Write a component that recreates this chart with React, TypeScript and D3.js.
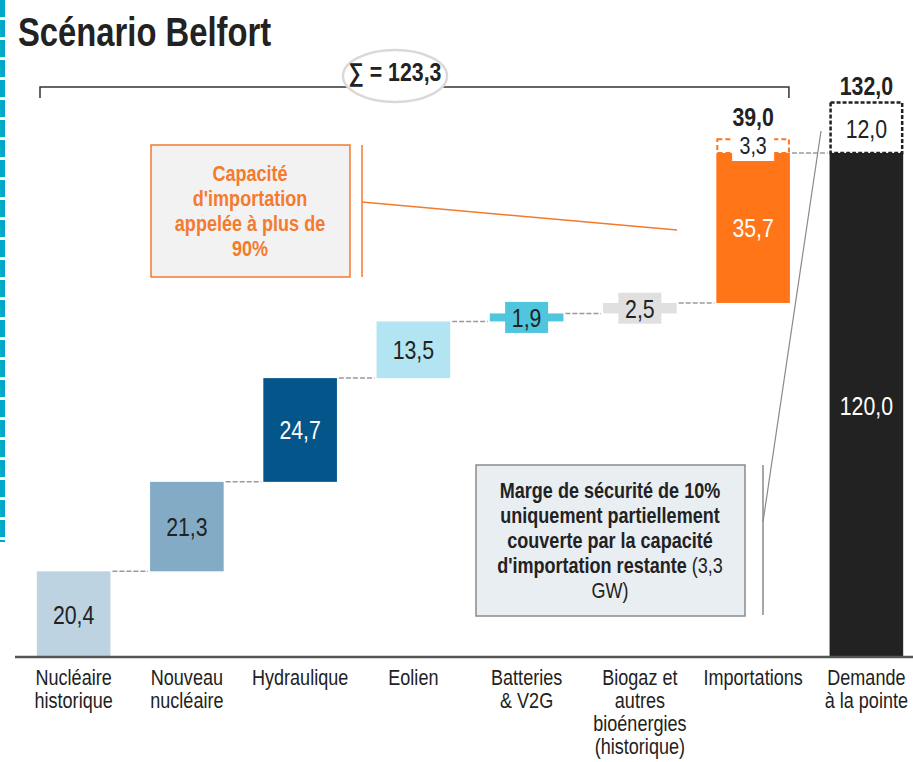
import * as d3 from "d3";
import React from "react";

const categories = [
  "Nucléaire historique",
  "Nouveau nucléaire",
  "Hydraulique",
  "Eolien",
  "Batteries & V2G",
  "Biogaz et autres bioénergies (historique)",
  "Importations",
  "Demande à la pointe",
];

const categoryLines = [
  ["Nucléaire", "historique"],
  ["Nouveau", "nucléaire"],
  ["Hydraulique"],
  ["Eolien"],
  ["Batteries", "& V2G"],
  ["Biogaz et", "autres", "bioénergies", "(historique)"],
  ["Importations"],
  ["Demande", "à la pointe"],
];

const values = [20.4, 21.3, 24.7, 13.5, 1.9, 2.5, 35.7, 120.0];
const valueLabels = ["20,4", "21,3", "24,7", "13,5", "1,9", "2,5", "35,7", "120,0"];

const barColors = ["#bdd3e1", "#84abc6", "#03558a", "#b3e4f1", "#4fc5de", "#e0e0e0", "#ff7518", "#222222"];
const labelColors = ["#222", "#222", "#fff", "#222", "#222", "#222", "#fff", "#fff"];

const importsRemaining = 3.3;
const importsTotal = "39,0";
const safetyMargin = 12.0;
const demandTotal = "132,0";
const supplySum = "∑ = 123,3";

const orangeNote = ["Capacité", "d'importation", "appelée à plus de", "90%"];

const W = 913;
const H = 762;
const FONT = "'Liberation Sans', Arial, sans-serif";
const NARROW = 0.82; // squeeze Arial metrics to look like Arial Narrow

const x = d3.scaleBand<string>().domain(categories).range([17, 923]).paddingInner(0.35).paddingOuter(0.175);
const y = d3.scaleLinear().domain([0, 132]).range([657, 102.6]);

// waterfall: start/end of every step, the demand bar starts again at zero
const steps = values.map((v, i) => {
  const isTotal = i === values.length - 1;
  const start = isTotal ? 0 : d3.sum(values.slice(0, i));
  return { cat: categories[i], start, end: start + v, i };
});

type TProps = {
  x: number;
  y: number;
  size: number;
  bold?: boolean;
  fill?: string;
  anchor?: string;
  children: React.ReactNode;
};

const T = ({ x, y, size, bold, fill = "#222", anchor = "middle", children }: TProps) => (
  <text
    transform={`translate(${x},${y}) scale(${NARROW},1)`}
    fontSize={size}
    fontWeight={bold ? "bold" : "normal"}
    fill={fill}
    textAnchor={anchor}
  >
    {children}
  </text>
);

export default function App() {
  const bw = x.bandwidth();
  const imp = steps[6];
  const dem = steps[7];
  const impX = x(imp.cat)!;
  const demX = x(dem.cat)!;

  return (
    <svg width={W} height={H} style={{ position: "absolute", left: 0, top: 0 }} fontFamily={FONT}>
      <rect width={W} height={H} fill="#fff" />

      {/* left cyan dashed edge */}
      <line x1={2.5} x2={2.5} y1={0} y2={542} stroke="#00a8cc" strokeWidth={5} strokeDasharray="17,3" />

      <T x={18} y={46} size={40} bold anchor="start">
        Scénario Belfort
      </T>

      {/* sum bracket */}
      <path d={`M40,98V87H${impX + bw - 1}V98`} fill="none" stroke="#333" strokeWidth={1.5} />
      <ellipse cx={395} cy={76} rx={52} ry={26} fill="#fff" stroke="#d9d9d9" strokeWidth={2.5} />
      <T x={395} y={81} size={26} bold>
        {supplySum}
      </T>

      {/* connectors */}
      {steps.slice(0, 7).map((s, i) => (
        <line
          key={"c" + i}
          x1={x(s.cat)! + bw + 2}
          x2={x(categories[i + 1])! - 2}
          y1={y(s.end)}
          y2={y(s.end)}
          stroke="#9a9a9a"
          strokeWidth={1.5}
          strokeDasharray="5,2"
        />
      ))}

      {/* bars */}
      {steps.map((s) => (
        <rect
          key={s.cat}
          x={x(s.cat)}
          y={y(s.end)}
          width={bw}
          height={y(s.start) - y(s.end)}
          fill={barColors[s.i]}
        />
      ))}

      {/* value labels */}
      {steps.map((s) => {
        const cx = x(s.cat)! + bw / 2;
        const cy = (y(s.start) + y(s.end)) / 2;
        const small = values[s.i] < 5;
        return (
          <g key={"l" + s.cat}>
            {small && <rect x={cx - 21.5} y={cy - 15.5} width={43} height={31} fill={barColors[s.i]} />}
            <T x={cx} y={cy + 9.5} size={26} fill={labelColors[s.i]}>
              {valueLabels[s.i]}
            </T>
          </g>
        );
      })}

      {/* remaining import capacity */}
      <rect
        x={impX + 1}
        y={y(imp.end + importsRemaining)}
        width={bw - 2}
        height={y(imp.end) - y(imp.end + importsRemaining)}
        fill="#fff"
        stroke="#ff7518"
        strokeWidth={2}
        strokeDasharray="5,3"
      />
      <rect x={impX + bw / 2 - 21} y={136} width={42} height={25} fill="#fff" />
      <T x={impX + bw / 2} y={y(imp.end) + 1} size={24}>
        {String(importsRemaining).replace(".", ",")}
      </T>
      <T x={impX + bw / 2} y={y(imp.end + importsRemaining) - 13} size={26} bold>
        {importsTotal}
      </T>

      {/* safety margin */}
      <rect
        x={demX + 1}
        y={y(dem.end + safetyMargin)}
        width={bw - 2}
        height={y(dem.end) - y(dem.end + safetyMargin)}
        fill="#fff"
        stroke="#222"
        strokeWidth={2.5}
        strokeDasharray="4,2"
      />
      <T x={demX + bw / 2} y={y(dem.end) - 15} size={26}>
        {safetyMargin.toFixed(1).replace(".", ",")}
      </T>
      <T x={demX + bw / 2} y={y(dem.end + safetyMargin) - 8} size={26} bold>
        {demandTotal}
      </T>

      {/* orange annotation */}
      <rect x={151} y={145} width={199} height={132} fill="#f2f2f2" stroke="#f47a2e" strokeWidth={1.5} />
      <line x1={362} x2={362} y1={145} y2={277} stroke="#f47a2e" strokeWidth={1.5} />
      <line x1={362} y1={202} x2={677} y2={230} stroke="#f47a2e" strokeWidth={1.5} />
      {orangeNote.map((t, i) => (
        <T key={t} x={250} y={181 + i * 25} size={22} bold fill="#f47a2e">
          {t}
        </T>
      ))}

      {/* grey annotation */}
      <rect x={476} y={465} width={269} height={151} fill="#e9eef3" stroke="#8a8a8a" strokeWidth={1.5} />
      <line x1={763} x2={763} y1={465} y2={615} stroke="#8a8a8a" strokeWidth={1.5} />
      <line x1={763} y1={522} x2={821} y2={131} stroke="#8a8a8a" strokeWidth={1.2} />
      <T x={610} y={498} size={22} bold>Marge de sécurité de 10%</T>
      <T x={610} y={523} size={22} bold>uniquement partiellement</T>
      <T x={610} y={548} size={22} bold>couverte par la capacité</T>
      <T x={610} y={573} size={22}>
        <tspan fontWeight="bold">d'importation restante </tspan>
        <tspan>(3,3</tspan>
      </T>
      <T x={610} y={598} size={22}>GW)</T>

      {/* x axis */}
      <line x1={15} x2={W} y1={657} y2={657} stroke="#555" strokeWidth={2.5} />
      {categories.map((c, i) =>
        categoryLines[i].map((l, j) => (
          <T key={c + l} x={x(c)! + bw / 2} y={685 + j * 23} size={22}>
            {l}
          </T>
        ))
      )}
    </svg>
  );
}
